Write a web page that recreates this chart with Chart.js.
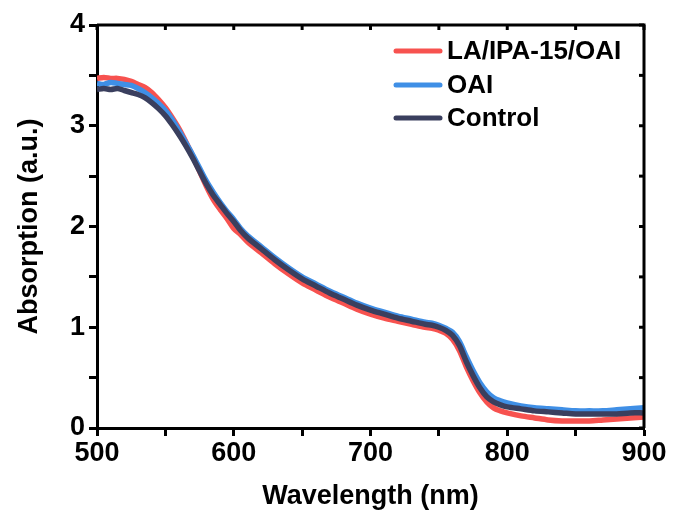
<!DOCTYPE html>
<html>
<head>
<meta charset="utf-8">
<script src="https://cdn.jsdelivr.net/npm/chart.js@4"></script>
<style>
  html, body { margin: 0; padding: 0; background: #fff; }
  #wrap { width: 673px; height: 516px; }
</style>
</head>
<body>
<div id="wrap"><canvas id="absChart" width="673" height="516"></canvas></div>
<script>
/* DATA */
const wavelengths = [500, 505, 510, 515, 520, 525, 530, 535, 540, 545, 550, 555, 560, 565, 570, 575, 580, 585, 590, 595, 600, 605, 610, 620, 630, 640, 650, 660, 670, 680, 690, 700, 710, 720, 730, 740, 745, 750, 755, 760, 765, 770, 775, 780, 785, 790, 795, 800, 810, 820, 830, 840, 850, 860, 870, 880, 890, 900];

const laIpaOai = [3.47, 3.48, 3.47, 3.47, 3.46, 3.44, 3.41, 3.38, 3.33, 3.26, 3.18, 3.08, 2.97, 2.84, 2.70, 2.55, 2.40, 2.27, 2.17, 2.08, 1.98, 1.92, 1.85, 1.74, 1.63, 1.53, 1.44, 1.37, 1.30, 1.24, 1.18, 1.13, 1.09, 1.06, 1.03, 1.00, 0.99, 0.97, 0.94, 0.88, 0.77, 0.61, 0.47, 0.35, 0.26, 0.20, 0.17, 0.15, 0.12, 0.10, 0.08, 0.07, 0.07, 0.07, 0.08, 0.09, 0.10, 0.11];

const oai = [3.42, 3.41, 3.43, 3.42, 3.41, 3.40, 3.37, 3.33, 3.28, 3.22, 3.15, 3.06, 2.95, 2.83, 2.71, 2.58, 2.45, 2.34, 2.24, 2.15, 2.07, 1.98, 1.91, 1.80, 1.69, 1.59, 1.50, 1.43, 1.36, 1.30, 1.24, 1.19, 1.15, 1.11, 1.08, 1.05, 1.04, 1.02, 0.99, 0.95, 0.86, 0.71, 0.57, 0.45, 0.36, 0.30, 0.27, 0.25, 0.22, 0.20, 0.19, 0.18, 0.17, 0.17, 0.17, 0.18, 0.19, 0.20];

const control = [3.36, 3.37, 3.36, 3.37, 3.35, 3.33, 3.31, 3.28, 3.23, 3.17, 3.10, 3.01, 2.91, 2.80, 2.68, 2.55, 2.42, 2.31, 2.22, 2.13, 2.05, 1.96, 1.89, 1.78, 1.67, 1.57, 1.48, 1.41, 1.34, 1.28, 1.22, 1.17, 1.13, 1.09, 1.06, 1.03, 1.02, 1.00, 0.97, 0.92, 0.82, 0.66, 0.52, 0.40, 0.31, 0.26, 0.23, 0.21, 0.19, 0.17, 0.16, 0.15, 0.14, 0.14, 0.14, 0.14, 0.15, 0.15];

const seriesNames = ["LA/IPA-15/OAI", "OAI", "Control"];
const seriesColors = ["#f7524f", "#3f8fe6", "#3a3f5e"];

const FONT = "'Liberation Sans', Arial, sans-serif";

/* frame on top/right + inward ticks, and the legend */
const framePlugin = {
  id: "frame",
  afterDraw(chart) {
    const { ctx, chartArea: a, scales } = chart;
    ctx.save();
    ctx.strokeStyle = "#000";
    ctx.lineWidth = 3;
    ctx.beginPath();
    ctx.moveTo(a.left, a.top);
    ctx.lineTo(a.right, a.top);
    ctx.lineTo(a.right, a.bottom);
    ctx.stroke();

    scales.x.ticks.forEach((t) => {
      const px = scales.x.getPixelForValue(t.value);
      ctx.beginPath();
      ctx.moveTo(px, a.top);
      ctx.lineTo(px, a.top + 5);
      ctx.stroke();
    });
    scales.y.ticks.forEach((t) => {
      const py = scales.y.getPixelForValue(t.value);
      ctx.beginPath();
      ctx.moveTo(a.right, py);
      ctx.lineTo(a.right - 5, py);
      ctx.stroke();
    });

    // legend
    const lx = 393, ly = [51, 85, 118];
    ctx.font = "bold 26px " + FONT;
    ctx.textBaseline = "middle";
    chart.data.datasets.forEach((ds, i) => {
      ctx.strokeStyle = ds.borderColor;
      ctx.lineWidth = 5;
      ctx.lineCap = "round";
      ctx.beginPath();
      ctx.moveTo(lx + 3, ly[i]);
      ctx.lineTo(lx + 47, ly[i]);
      ctx.stroke();
      ctx.fillStyle = "#000";
      ctx.fillText(ds.label, lx + 54, ly[i] + 1);
    });
    ctx.restore();
  }
};

const ctx = document.getElementById("absChart").getContext("2d");

new Chart(ctx, {
  type: "line",
  data: {
    labels: wavelengths,
    datasets: [laIpaOai, oai, control].map((vals, i) => ({
      label: seriesNames[i],
      data: wavelengths.map((w, j) => ({ x: w, y: vals[j] })),
      borderColor: seriesColors[i],
      borderWidth: 5.5,
      pointRadius: 0,
      tension: 0.3,
      fill: false,
      order: 3 - i
    }))
  },
  options: {
    responsive: false,
    animation: false,
    layout: { padding: { top: 25, right: 29, left: 0, bottom: 0 } },
    plugins: {
      legend: { display: false },
      tooltip: { enabled: false }
    },
    scales: {
      x: {
        type: "linear",
        min: 500,
        max: 900,
        afterFit: (s) => { s.height = 88; },
        border: { display: true, color: "#000", width: 3 },
        grid: {
          display: true,
          drawOnChartArea: false,
          drawTicks: true,
          tickLength: 8,
          tickWidth: 3,
          tickColor: "#000"
        },
        ticks: {
          stepSize: 50,
          padding: 1,
          color: "#000",
          maxRotation: 0,
          autoSkip: false,
          font: { family: FONT, size: 27, weight: "bold" },
          callback: (v) => (v % 100 === 0 ? v : "")
        },
        title: {
          display: true,
          text: "Wavelength (nm)",
          color: "#000",
          padding: { top: 0, bottom: 3 },
          font: { family: FONT, size: 27, weight: "bold" }
        }
      },
      y: {
        min: 0,
        max: 4,
        afterFit: (s) => { s.width = 97; },
        border: { display: true, color: "#000", width: 3 },
        grid: {
          display: true,
          drawOnChartArea: false,
          drawTicks: true,
          tickLength: 8,
          tickWidth: 3,
          tickColor: "#000"
        },
        ticks: {
          stepSize: 0.5,
          padding: 4,
          color: "#000",
          autoSkip: false,
          font: { family: FONT, size: 27, weight: "bold" },
          callback: (v) => (Number.isInteger(v) ? v : "")
        },
        title: {
          display: true,
          text: "Absorption (a.u.)",
          color: "#000",
          padding: { top: 13, bottom: 0 },
          font: { family: FONT, size: 27, weight: "bold" }
        }
      }
    }
  },
  plugins: [framePlugin]
});
</script>
</body>
</html>
